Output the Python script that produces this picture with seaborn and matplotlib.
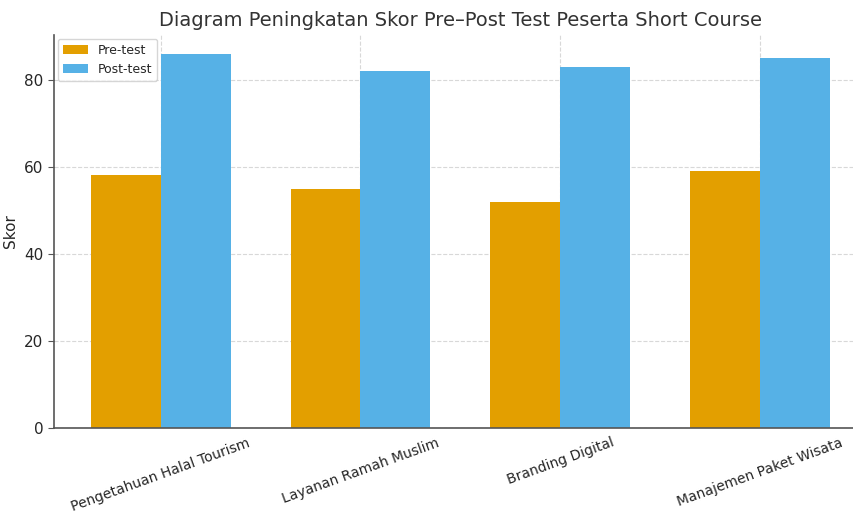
"""
pre/post test scores per short course module
"""
import pandas as pd
import seaborn as sns
import matplotlib.pyplot as plt

modules = ["Pengetahuan Halal Tourism", "Layanan Ramah Muslim",
           "Branding Digital", "Manajemen Paket Wisata"]
pre_test = [58, 55, 52, 59]
post_test = [86, 82, 83, 85]

df = pd.DataFrame({"modul": modules * 2,
                   "skor": pre_test + post_test,
                   "tes": ["Pre-test"] * 4 + ["Post-test"] * 4})

sns.set_style("white")
plt.rcParams["font.family"] = ["DejaVu Sans"]

fig = plt.figure(figsize=(8.54, 5.12), dpi=100)
ax = fig.add_axes([0.063, 0.164, 0.952, 0.768])

sns.barplot(data=df, x="modul", y="skor", hue="tes", width=0.7,
            palette=["#E39F00", "#56B1E6"], saturation=1, linewidth=0, ax=ax)

ax.set_xlim(-0.535, 3.535)
ax.set_ylim(0, 90.3)
ax.set_yticks([0, 20, 40, 60, 80])
ax.grid(True, linestyle="--", color="#d8d8d8", linewidth=0.8)
ax.set_axisbelow(True)
for s in ("top", "right"):
    ax.spines[s].set_visible(False)
for s in ("left", "bottom"):
    ax.spines[s].set_color("#555555")
    ax.spines[s].set_linewidth(1.2)
ax.tick_params(axis="y", left=True, length=4, color="#555555", labelsize=11)
ax.tick_params(axis="x", bottom=False, labelsize=10, pad=2)
plt.setp(ax.get_xticklabels(), rotation=20, ha="center")

ax.set_xlabel("")
ax.set_ylabel("Skor", fontsize=11)
ax.set_title("Diagram Peningkatan Skor Pre\u2013Post Test Peserta Short Course",
             fontsize=14, color="#333333", pad=6)
ax.legend(loc="upper left", fontsize=9, title=None, frameon=True,
          borderaxespad=0.3, handlelength=2)

plt.savefig("out.png")
plt.close()
